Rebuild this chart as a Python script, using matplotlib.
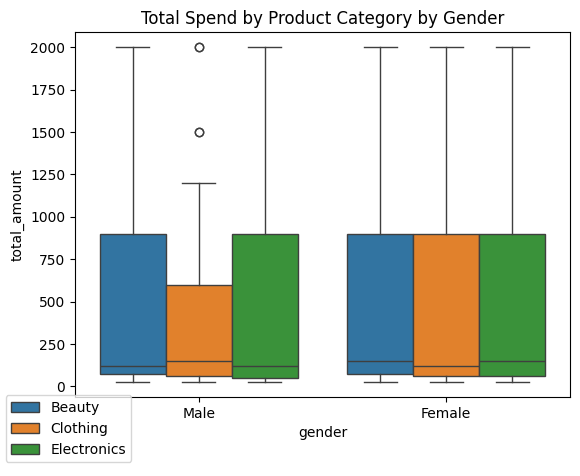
import matplotlib
matplotlib.use("Agg")
import matplotlib.pyplot as plt
from matplotlib.patches import Patch

genders = ["Male", "Female"]
categories = ["Beauty", "Clothing", "Electronics"]
colors = ["#3274a1", "#e1812c", "#3a923a"]
# [gender][category] -> (whislo, q1, med, q3, whishi)
stats = {
    "Male": [(25, 75, 120, 900, 2000), (25, 60, 150, 600, 1200), (25, 50, 120, 900, 2000)],
    "Female": [(25, 75, 150, 900, 2000), (25, 60, 120, 900, 2000), (25, 60, 150, 900, 2000)],
}
fliers = {"Male": [[], [1500, 1500, 2000, 2000], []], "Female": [[], [], []]}

fig = plt.figure(figsize=(5.8, 4.76), dpi=100)
ax = fig.add_axes([75/580, 1-397/476, 495/580, 365/476])
w = 0.8 / 3
lc = "#3f3f3f"
for gi, g in enumerate(genders):
    for ci, c in enumerate(categories):
        lo, q1, med, q3, hi = stats[g][ci]
        s = dict(whislo=lo, q1=q1, med=med, q3=q3, whishi=hi, fliers=fliers[g][ci])
        pos = gi + (ci - 1) * w
        ax.bxp([s], positions=[pos], widths=w, patch_artist=True, showfliers=True,
               boxprops=dict(facecolor=colors[ci], edgecolor=lc, linewidth=1),
               medianprops=dict(color=lc, linewidth=1),
               whiskerprops=dict(color=lc, linewidth=1),
               capprops=dict(color=lc, linewidth=1),
               capwidths=w/2,
               flierprops=dict(marker="o", markerfacecolor="none", markeredgecolor=lc, markersize=6))
ax.set_xlim(-0.5, 1.5)
ax.set_ylim(-62, 2090)
ax.set_xticks([0, 1])
ax.set_xticklabels(genders)
ax.set_yticks(range(0, 2001, 250))
ax.set_xlabel("gender")
ax.set_ylabel("total_amount")
ax.set_title("Total Spend by Product Category by Gender")
handles = [Patch(facecolor=colors[i], edgecolor=lc, label=categories[i]) for i in range(3)]
ax.legend(handles=handles, loc="upper left", bbox_to_anchor=(-0.14, 0.005), borderaxespad=0)
fig.savefig("out.png", dpi=100)
